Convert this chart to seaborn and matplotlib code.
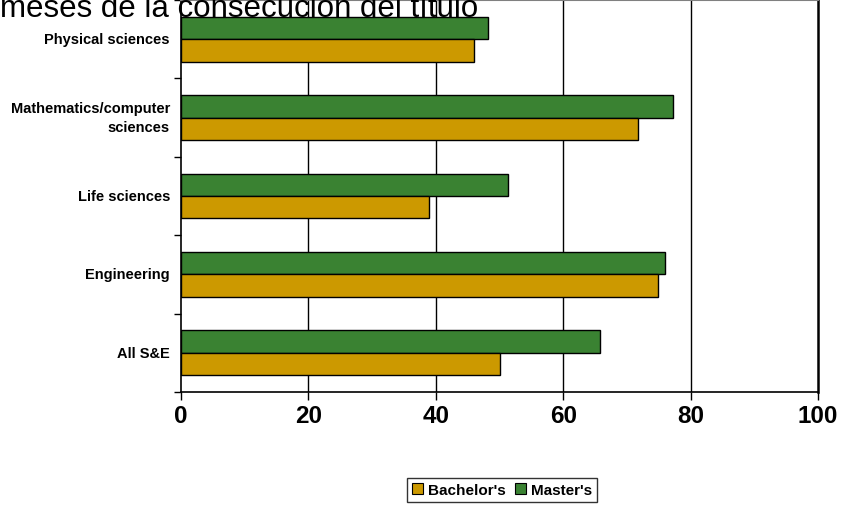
import matplotlib
matplotlib.use("Agg")
import matplotlib.pyplot as plt
from matplotlib.patches import Patch
from matplotlib.transforms import ScaledTranslation
import seaborn as sns
import pandas as pd

# Share of graduates employed in a closely related job, by field and degree
fields = ["Physical sciences", "Mathematics/computer\nsciences", "Life sciences",
          "Engineering", "All S&E"]
bachelors = [46.0, 71.8, 39.0, 74.9, 50.1]
masters = [48.2, 77.2, 51.3, 76.0, 65.8]
degree_labels = ["Bachelor's", "Master's"]
x_ticks = [0, 20, 40, 60, 80, 100]
title_text = "meses de la consecución del título"

colors = {"Bachelor's": "#CC9900", "Master's": "#3A8232"}

df = pd.DataFrame({
    "field": fields * 2,
    "pct": bachelors + masters,
    "degree": [degree_labels[0]] * len(fields) + [degree_labels[1]] * len(fields),
})

sns.set_theme(style="white")
plt.rcParams["font.family"] = ["Liberation Sans", "DejaVu Sans"]
plt.rcParams["text.color"] = "black"
plt.rcParams["xtick.color"] = "black"
plt.rcParams["ytick.color"] = "black"

fig = plt.figure(figsize=(8.44, 5.06), dpi=100)
W, H = 844, 506
ax = fig.add_axes([181 / W, (H - 393) / H, (818 - 181) / W, (393 - 1) / H])

sns.barplot(data=df, y="field", x="pct", hue="degree", order=fields,
            hue_order=["Master's", "Bachelor's"], palette=colors,
            orient="h", width=0.57, edgecolor="black", linewidth=1.0,
            saturation=1, errorbar=None, legend=False, ax=ax, zorder=3)

ax.set_xlim(0, 100)
ax.set_ylim(len(fields) - 0.5, -0.5)
ax.set_xlabel("")
ax.set_ylabel("")

# vertical grid lines
ax.set_xticks(x_ticks)
ax.set_xticklabels([str(v) for v in x_ticks], fontsize=17.5, fontweight="bold",
                   color="black")
for v in x_ticks[1:-1]:
    ax.axvline(v, color="black", linewidth=1.0, zorder=1)

# category labels in the middle, tick marks on the boundaries
ax.set_yticks(range(len(fields)))
ax.set_yticklabels(fields, fontsize=10.5, fontweight="bold", linespacing=1.45,
                   color="black", va="center")
shift = ScaledTranslation(0, -1.5 / 100, fig.dpi_scale_trans)
for lbl in ax.get_yticklabels():
    lbl.set_transform(lbl.get_transform() + shift)
ax.tick_params(axis="y", which="major", length=0, pad=8)
ax.set_yticks([i - 0.5 for i in range(len(fields) + 1)], minor=True)
ax.tick_params(axis="y", which="minor", length=5, width=1, color="black",
               direction="out", left=True)
ax.tick_params(axis="x", which="major", length=6, width=1, color="black",
               direction="out", bottom=True, pad=3)

for side in ["left", "bottom"]:
    ax.spines[side].set_color("black")
    ax.spines[side].set_linewidth(1.2)
ax.spines["right"].set_color("black")
ax.spines["right"].set_linewidth(1.8)
ax.spines["top"].set_color("#808080")
ax.spines["top"].set_linewidth(1.5)

handles = [Patch(facecolor=colors[d], edgecolor="black", linewidth=0.8)
           for d in degree_labels]
leg = fig.legend(handles, degree_labels, loc="center", bbox_to_anchor=(502 / W, 1 - 491 / H),
                 ncol=2, frameon=True, fancybox=False, edgecolor="black",
                 prop={"weight": "bold", "size": 11}, handlelength=0.75,
                 handleheight=0.75, handletextpad=0.3, columnspacing=0.6,
                 borderpad=0.35, borderaxespad=0)
leg.get_frame().set_linewidth(1.0)

fig.text(0, 1 - 17 / H, title_text, fontsize=22.5, ha="left", va="baseline",
         color="black")

fig.savefig("out.png", dpi=100)
